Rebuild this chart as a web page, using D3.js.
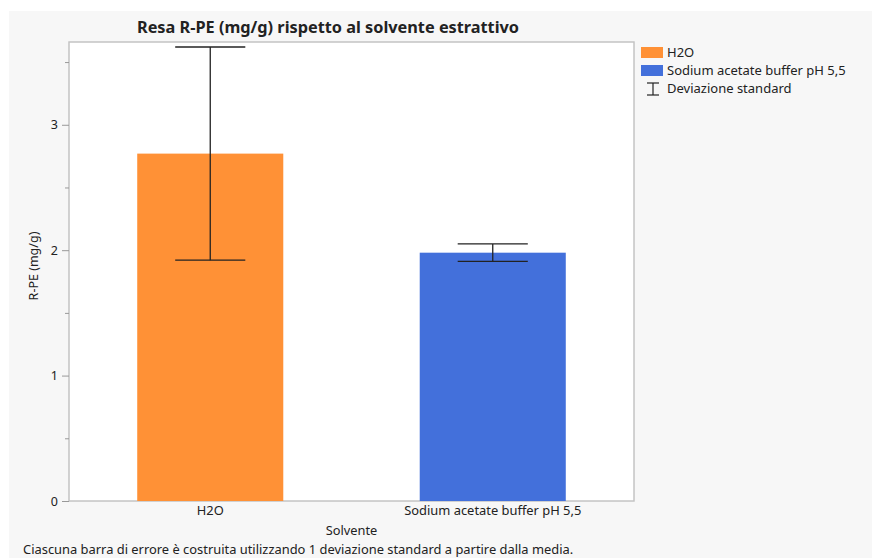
<!DOCTYPE html>
<html>
<head>
<meta charset="utf-8">
<script src="https://cdn.jsdelivr.net/npm/d3@7"></script>
<style>
  html, body { margin: 0; padding: 0; background: #ffffff; }
  svg { display: block; }
  text { font-family: "Noto Sans", "DejaVu Sans", sans-serif; fill: #222; }
</style>
</head>
<body>
<svg id="chart" width="872" height="558"></svg>
<script>
// Yield of R-PE by extraction solvent (mean ± 1 SD)
const categories = ["H2O", "Sodium acetate buffer pH 5,5"];
const means = [2.77, 1.98];
const stdDevs = [0.85, 0.07];
const barColors = ["#FF9136", "#4370DB"];
const yTicks = [0, 1, 2, 3];
const yMinorTicks = [0.5, 1.5, 2.5, 3.5];
const legendLabels = ["H2O", "Sodium acetate buffer pH 5,5", "Deviazione standard"];

const svg = d3.select("#chart");
const W = 872, H = 558;
const plot = { left: 69, top: 42, right: 634, bottom: 501 };

// Grey report panel
svg.append("rect").attr("x", 9).attr("y", 11).attr("width", W - 9).attr("height", H - 11)
  .attr("fill", "#f7f7f7");

// Title
svg.append("text").attr("x", 328).attr("y", 33).attr("text-anchor", "middle")
  .attr("font-size", 16.3).attr("font-weight", "bold").attr("fill", "#111")
  .text("Resa R-PE (mg/g) rispetto al solvente estrattivo");

// Plot frame
svg.append("rect").attr("x", plot.left).attr("y", plot.top)
  .attr("width", plot.right - plot.left).attr("height", plot.bottom - plot.top)
  .attr("fill", "#ffffff").attr("stroke", "#c4c4c4").attr("stroke-width", 1.5);

const x = d3.scaleBand().domain(categories).range([plot.left, plot.right])
  .paddingInner(0.483).paddingOuter(0.2415);
const y = d3.scaleLinear().domain([0, 3.66]).range([plot.bottom, plot.top]);

// Y axis with major and minor ticks
const yAxis = svg.append("g").attr("transform", `translate(${plot.left},0)`)
  .call(d3.axisLeft(y).tickValues(yTicks).tickSize(7).tickPadding(4).tickFormat(d3.format("d")));
yAxis.select(".domain").remove();
yAxis.selectAll(".tick line").attr("stroke", "#999");
yAxis.selectAll(".tick text").attr("font-size", 12.5).attr("fill", "#333")
  .attr("font-family", "\"Noto Sans\", sans-serif");
const yMinor = svg.append("g").attr("transform", `translate(${plot.left},0)`)
  .call(d3.axisLeft(y).tickValues(yMinorTicks).tickSize(4).tickFormat(""));
yMinor.select(".domain").remove();
yMinor.selectAll(".tick line").attr("stroke", "#999");

// X axis labels
const xAxis = svg.append("g").attr("transform", `translate(0,${plot.bottom})`)
  .call(d3.axisBottom(x).tickSize(0).tickPadding(5));
xAxis.select(".domain").remove();
xAxis.selectAll(".tick text").attr("font-size", 12.9).attr("fill", "#222")
  .attr("font-family", "\"Noto Sans\", sans-serif");

// Axis titles
svg.append("text").attr("x", (plot.left + plot.right) / 2).attr("y", 535)
  .attr("text-anchor", "middle").attr("font-size", 12.8).text("Solvente");
svg.append("text").attr("transform", `translate(38,266) rotate(-90)`)
  .attr("text-anchor", "middle").attr("font-size", 12.5).text("R-PE (mg/g)");

// Bars
const data = categories.map((c, i) => ({ c, m: means[i], sd: stdDevs[i], col: barColors[i] }));
svg.append("g").selectAll("rect").data(data).join("rect")
  .attr("x", d => x(d.c)).attr("width", x.bandwidth())
  .attr("y", d => y(d.m)).attr("height", d => y(0) - y(d.m))
  .attr("fill", d => d.col);

// Error bars (±1 SD)
const capHalf = x.bandwidth() * 0.24;
const eb = svg.append("g").attr("stroke", "#222").attr("stroke-width", 1.3)
  .selectAll("g").data(data).join("g");
eb.append("line")
  .attr("x1", d => x(d.c) + x.bandwidth() / 2).attr("x2", d => x(d.c) + x.bandwidth() / 2)
  .attr("y1", d => y(d.m + d.sd)).attr("y2", d => y(d.m - d.sd));
eb.append("line")
  .attr("x1", d => x(d.c) + x.bandwidth() / 2 - capHalf).attr("x2", d => x(d.c) + x.bandwidth() / 2 + capHalf)
  .attr("y1", d => y(d.m + d.sd)).attr("y2", d => y(d.m + d.sd));
eb.append("line")
  .attr("x1", d => x(d.c) + x.bandwidth() / 2 - capHalf).attr("x2", d => x(d.c) + x.bandwidth() / 2 + capHalf)
  .attr("y1", d => y(d.m - d.sd)).attr("y2", d => y(d.m - d.sd));

// Legend
const lg = svg.append("g").attr("transform", "translate(641,47)");
legendLabels.forEach((lab, i) => {
  const row = lg.append("g").attr("transform", `translate(0,${i * 18})`);
  if (i < barColors.length) {
    row.append("rect").attr("width", 22).attr("height", 11).attr("fill", barColors[i]);
  } else {
    const ib = row.append("g").attr("stroke", "#222").attr("stroke-width", 1.2);
    ib.append("line").attr("x1", 6).attr("x2", 18).attr("y1", 0).attr("y2", 0);
    ib.append("line").attr("x1", 6).attr("x2", 18).attr("y1", 12).attr("y2", 12);
    ib.append("line").attr("x1", 12).attr("x2", 12).attr("y1", 0).attr("y2", 12);
  }
  row.append("text").attr("x", 26).attr("y", 10).attr("font-size", 13).text(lab);
});

// Footnote
svg.append("text").attr("x", 23).attr("y", 554).attr("font-size", 12.9)
  .text("Ciascuna barra di errore è costruita utilizzando 1 deviazione standard a partire dalla media.");
</script>
</body>
</html>
